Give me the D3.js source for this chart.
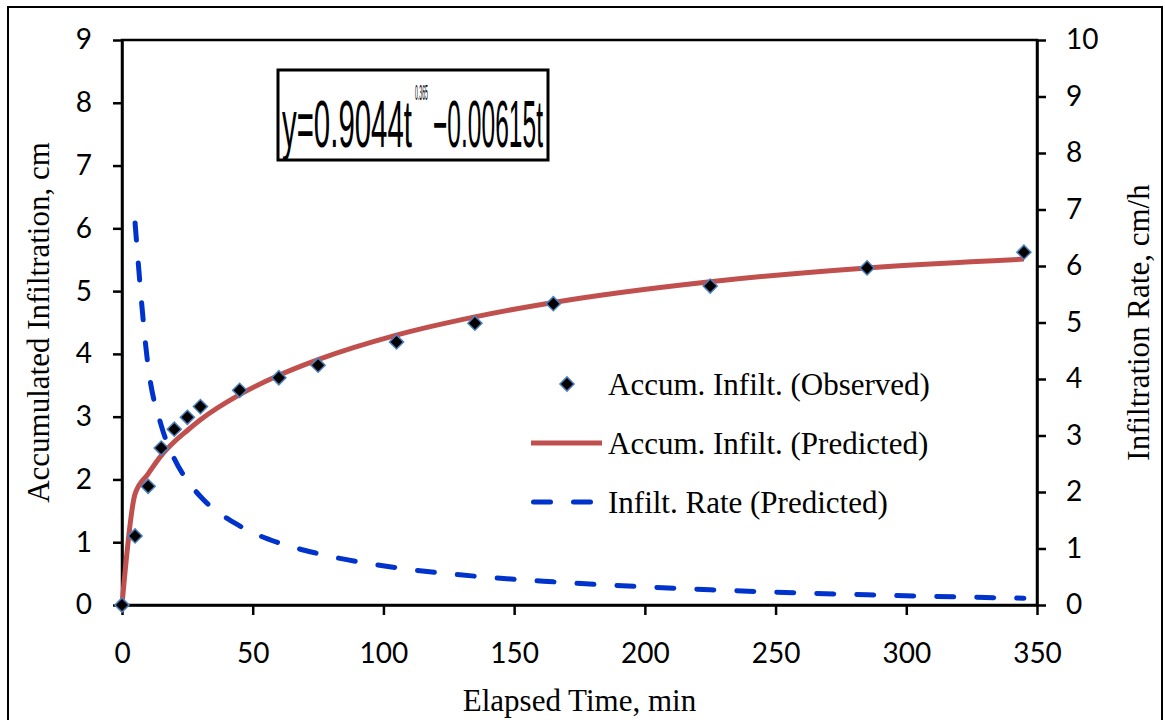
<!DOCTYPE html>
<html>
<head>
<meta charset="utf-8">
<script src="https://cdn.jsdelivr.net/npm/d3@7"></script>
<style>
  html, body { margin: 0; padding: 0; background: #ffffff; }
  svg { display: block; }
</style>
</head>
<body>
<svg id="chart" width="1165" height="720"></svg>
<script>
// Elapsed time of each reading, minutes
const timeMin = [0, 5, 10, 15, 20, 25, 30, 45, 60, 75, 105, 135, 165, 225, 285, 345];
// Measured accumulated infiltration, cm
const accumObserved = [0, 1.10, 1.89, 2.50, 2.80, 2.99, 3.16, 3.42, 3.62, 3.82, 4.19, 4.49, 4.80, 5.08, 5.37, 5.62];
// Fitted accumulated infiltration, cm
const accumPredicted = [0, 1.77, 2.09, 2.38, 2.60, 2.78, 2.95, 3.35, 3.66, 3.91, 4.30, 4.59, 4.82, 5.15, 5.37, 5.51];
// Fitted infiltration rate, cm/h (starts at the second reading)
const rateTime = [5, 10, 15, 20, 25, 30, 45, 60, 75, 105, 135, 165, 225, 285, 345];
const ratePredicted = [6.76, 4.22, 3.18, 2.59, 2.20, 1.92, 1.40, 1.10, 0.91, 0.66, 0.51, 0.41, 0.27, 0.18, 0.12];

const xTicks = [0, 50, 100, 150, 200, 250, 300, 350];
const yLeftTicks = [0, 1, 2, 3, 4, 5, 6, 7, 8, 9];
const yRightTicks = [0, 1, 2, 3, 4, 5, 6, 7, 8, 9, 10];

const legendLabels = ["Accum. Infilt. (Observed)", "Accum. Infilt. (Predicted)", "Infilt. Rate (Predicted)"];

const svg = d3.select("#chart");
const plot = { left: 122, right: 1037, top: 40, bottom: 605 };

const x = d3.scaleLinear().domain([0, 350]).range([plot.left, plot.right]);
const yL = d3.scaleLinear().domain([0, 9]).range([plot.bottom, plot.top]);
const yR = d3.scaleLinear().domain([0, 10]).range([plot.bottom, plot.top]);

const tickFont = "Lato, 'Open Sans', sans-serif";
const serif = "'Liberation Serif', 'Times New Roman', serif";
const RED = "#c0504d", BLUE = "#0033cc", MARK_EDGE = "#4f81bd";

// outer frame
svg.append("rect")
  .attr("x", 8).attr("y", 7).attr("width", 1154).attr("height", 730)
  .attr("fill", "#fff").attr("stroke", "#000").attr("stroke-width", 2);

// plot box
svg.append("rect")
  .attr("x", plot.left).attr("y", plot.top)
  .attr("width", plot.right - plot.left).attr("height", plot.bottom - plot.top)
  .attr("fill", "none").attr("stroke", "#000").attr("stroke-width", 2.5);

function styleAxis(g) {
  g.select(".domain").attr("stroke", "#000").attr("stroke-width", 2.5);
  g.selectAll(".tick line").attr("stroke", "#000").attr("stroke-width", 2.5);
  g.selectAll(".tick text")
    .attr("fill", "#000")
    .style("font-family", tickFont)
    .style("font-size", "28px");
}

svg.append("g")
  .attr("transform", `translate(${plot.left},0)`)
  .call(d3.axisLeft(yL).tickValues(yLeftTicks).tickSize(9).tickSizeOuter(0).tickPadding(21).tickFormat(d3.format("d")))
  .call(styleAxis);

svg.append("g")
  .attr("transform", `translate(${plot.right},0)`)
  .call(d3.axisRight(yR).tickValues(yRightTicks).tickSize(9).tickSizeOuter(0).tickPadding(20).tickFormat(d3.format("d")))
  .call(styleAxis);

svg.append("g")
  .attr("transform", `translate(0,${plot.bottom})`)
  .call(d3.axisBottom(x).tickValues(xTicks).tickSize(10).tickSizeOuter(0).tickPadding(28).tickFormat(d3.format("d")))
  .call(styleAxis);

// axis titles
svg.append("text")
  .attr("transform", `translate(49,${(plot.top + plot.bottom) / 2}) rotate(-90)`)
  .attr("text-anchor", "middle")
  .style("font-family", serif).style("font-size", "31px")
  .text("Accumulated Infiltration, cm");

svg.append("text")
  .attr("transform", `translate(1149,${(plot.top + plot.bottom) / 2}) rotate(-90)`)
  .attr("text-anchor", "middle")
  .style("font-family", serif).style("font-size", "31px")
  .text("Infiltration Rate, cm/h");

svg.append("text")
  .attr("x", (plot.left + plot.right) / 2).attr("y", 711)
  .attr("text-anchor", "middle")
  .style("font-family", serif).style("font-size", "31px")
  .text("Elapsed Time, min");

// series
const accumPts = timeMin.map((t, i) => [t, accumPredicted[i]]);
const ratePts = rateTime.map((t, i) => [t, ratePredicted[i]]);
const obsPts = timeMin.map((t, i) => [t, accumObserved[i]]);

svg.append("path")
  .datum(accumPts)
  .attr("fill", "none").attr("stroke", RED).attr("stroke-width", 5)
  .attr("stroke-linejoin", "round")
  .attr("d", d3.line().x(d => x(d[0])).y(d => yL(d[1])).curve(d3.curveMonotoneX));

svg.append("path")
  .datum(ratePts)
  .attr("fill", "none").attr("stroke", BLUE).attr("stroke-width", 5)
  .attr("stroke-linecap", "round")
  .attr("stroke-dasharray", "17,23")
  .attr("d", d3.line().x(d => x(d[0])).y(d => yR(d[1])).curve(d3.curveMonotoneX));

const diamond = d3.symbol().type(d3.symbolSquare).size(100);
svg.append("g").selectAll("path")
  .data(obsPts)
  .join("path")
  .attr("transform", d => `translate(${x(d[0])},${yL(d[1])}) rotate(45)`)
  .attr("d", diamond)
  .attr("fill", "#000").attr("stroke", MARK_EDGE).attr("stroke-width", 1.5);

// legend
const legY = [384, 443, 502];
const legend = svg.append("g");
legend.append("path")
  .attr("transform", `translate(567,${legY[0]}) rotate(45)`)
  .attr("d", diamond)
  .attr("fill", "#000").attr("stroke", MARK_EDGE).attr("stroke-width", 1.5);
legend.append("line")
  .attr("x1", 531).attr("x2", 602).attr("y1", legY[1]).attr("y2", legY[1])
  .attr("stroke", RED).attr("stroke-width", 5);
legend.append("line")
  .attr("x1", 533.5).attr("x2", 602).attr("y1", legY[2]).attr("y2", legY[2])
  .attr("stroke", BLUE).attr("stroke-width", 5)
  .attr("stroke-linecap", "round").attr("stroke-dasharray", "17,23");
legend.selectAll("text")
  .data(legendLabels)
  .join("text")
  .attr("x", 608).attr("y", (d, i) => legY[i] + 11)
  .style("font-family", serif).style("font-size", "31px")
  .text(d => d);

// fitted equation box; each piece is squeezed horizontally to a set width
const eq = svg.append("g");
eq.append("rect")
  .attr("x", 278).attr("y", 70).attr("width", 270).attr("height", 90)
  .attr("fill", "#fff").attr("stroke", "#000").attr("stroke-width", 3);
const eqFont = "'Liberation Sans Narrow', 'Liberation Sans', sans-serif";
const eqPieces = [
  { text: "y=0.9044t", x: 282, base: 147, width: 130, size: 66 },
  { text: "0.365", x: 415, base: 100, width: 13, size: 22 },
  { text: "\u22120.00615t", x: 433, base: 147, width: 110, size: 66 }
];
eqPieces.forEach(p => {
  const t = eq.append("text")
    .style("font-family", eqFont)
    .style("font-size", p.size + "px")
    .attr("fill", "#000")
    .text(p.text);
  const natural = t.node().getComputedTextLength();
  t.attr("transform", `translate(${p.x},${p.base}) scale(${p.width / natural},1)`);
});
</script>
</body>
</html>
